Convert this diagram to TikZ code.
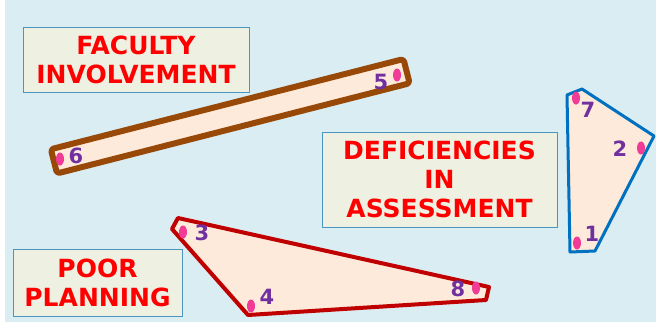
\documentclass[tikz,border=0pt]{standalone}
\usepackage{fontspec}
\setmainfont{DejaVu Sans}
\usetikzlibrary{shapes.geometric}
\definecolor{bgblue}{RGB}{218,237,243}
\definecolor{peach}{RGB}{253,234,218}
\definecolor{boxfill}{RGB}{238,241,226}
\definecolor{boxedge}{RGB}{74,150,190}
\definecolor{titlered}{RGB}{255,0,0}
\definecolor{barbrown}{RGB}{152,72,7}
\definecolor{quadblue}{RGB}{0,112,192}
\definecolor{polyred}{RGB}{192,0,0}
\definecolor{numpurple}{RGB}{112,48,160}
\definecolor{dotpink}{RGB}{240,60,150}
\begin{document}
\begin{tikzpicture}[x=1pt,y=-1pt,
  titlebox/.style={font=\fontsize{25}{29}\selectfont\bfseries, text=titlered, align=center,
    draw=boxedge, fill=boxfill, line width=0.8pt, inner sep=0pt},
  pinkdot/.style={ellipse, fill=dotpink, draw=none, minimum width=8pt, minimum height=13pt, inner sep=0pt},
  numlbl/.style={font=\fontsize{21}{21}\selectfont\bfseries, text=numpurple, inner sep=0pt},
  shapefill/.style={fill=peach, line join=round}]
\useasboundingbox (0,0) rectangle (656,322);
\fill[bgblue] (0,0) rectangle (656,322);
\fill[white] (0,0) rectangle (5,322);

% bar
\draw[shapefill, draw=barbrown, line width=6pt, rounded corners=3pt,
  shift={(230.25,116.25)}, rotate=14.35] (-182,-12.5) rectangle (182,12.5);
% blue quadrilateral
\draw[shapefill, draw=quadblue, line width=3pt]
  (567,95) -- (582,89) -- (654,136) -- (595,251) -- (570,252) -- cycle;
% red pentagon
\draw[shapefill, draw=polyred, line width=4pt]
  (172,229) -- (178,218) -- (489,287) -- (486,300) -- (248,315) -- cycle;

% title boxes
\node[titlebox, minimum width=226pt, minimum height=65pt] (fac) at (136,59.5) {FACULTY\\INVOLVEMENT};
\node[titlebox, minimum width=235pt, minimum height=95pt] (def) at (439.5,179.5) {DEFICIENCIES\\IN\\ASSESSMENT};
\node[titlebox, minimum width=169pt, minimum height=67pt] (poor) at (97.5,282.5) {POOR\\PLANNING};

% dots and numbers
\node[pinkdot] (d6) at (60,159) {};
\node[numlbl] (n6) at (76,156) {6};
\node[pinkdot] (d5) at (397,75) {};
\node[numlbl] (n5) at (381,82) {5};
\node[pinkdot] (d7) at (576,98) {};
\node[numlbl] (n7) at (588,110) {7};
\node[pinkdot] (d2) at (641,148) {};
\node[numlbl] (n2) at (620,149) {2};
\node[pinkdot] (d1) at (577,243) {};
\node[numlbl] (n1) at (592,234) {1};
\node[pinkdot] (d3) at (183,232) {};
\node[numlbl] (n3) at (202,233) {3};
\node[pinkdot] (d4) at (251,306) {};
\node[numlbl] (n4) at (267,297) {4};
\node[pinkdot] (d8) at (476,288) {};
\node[numlbl] (n8) at (458,289) {8};
\end{tikzpicture}
\end{document}
